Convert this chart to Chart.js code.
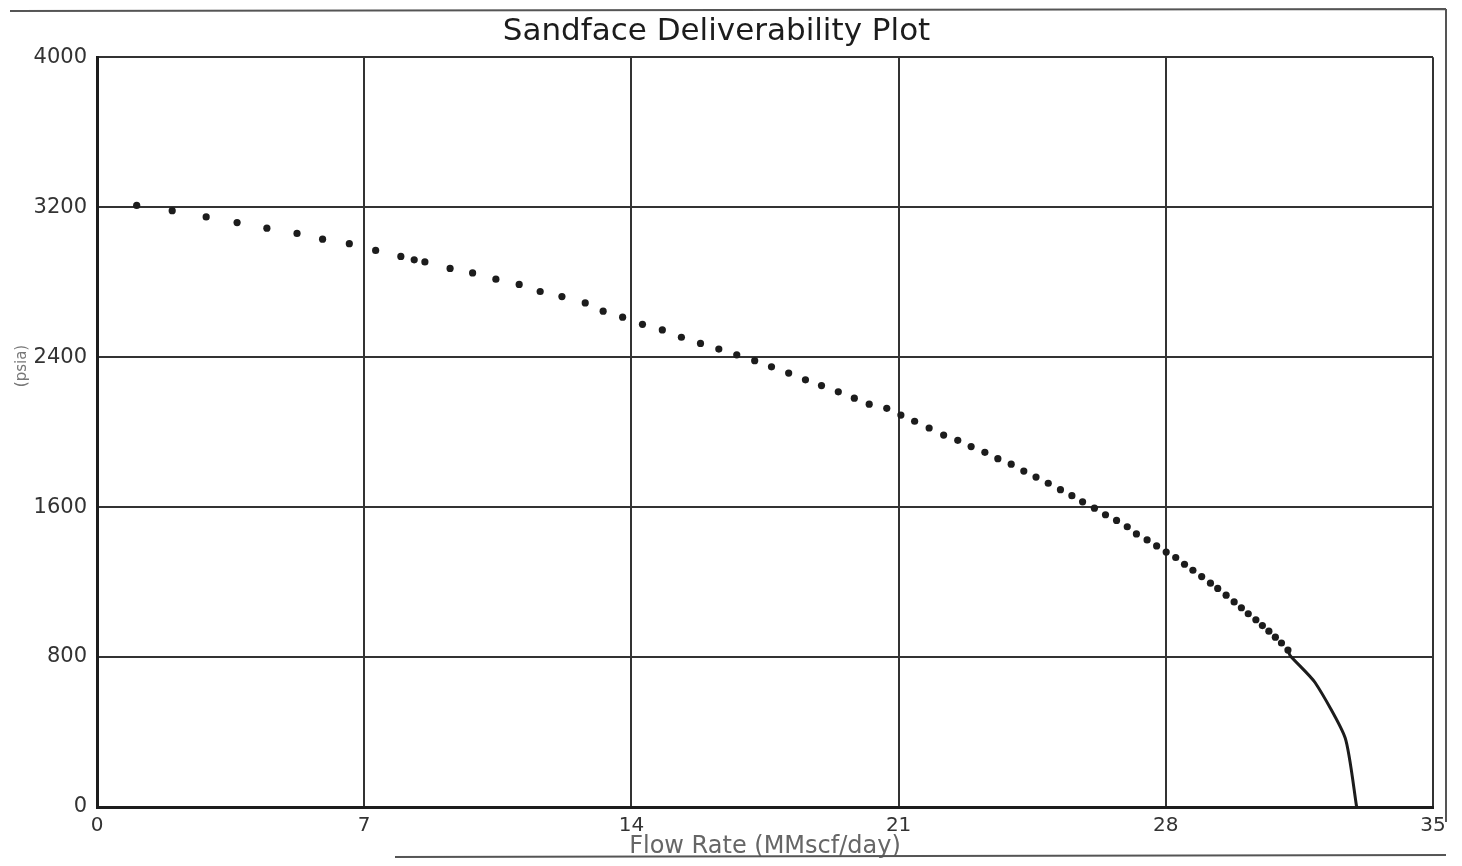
<!DOCTYPE html>
<html>
<head>
<meta charset="utf-8">
<script src="https://cdn.jsdelivr.net/npm/chart.js@4.4.0/dist/chart.umd.min.js"></script>
<style>
  html, body { margin: 0; padding: 0; background: #fff; }
  #wrap { width: 1462px; height: 866px; }
</style>
</head>
<body>
<div id="wrap"><canvas id="plot"></canvas></div>
<script>
// Sandface deliverability
const flowRate = [1.04, 1.97, 2.86, 3.67, 4.45, 5.24, 5.91, 6.61, 7.30, 7.96, 8.31, 8.59, 9.25, 9.84, 10.45,
  11.06, 11.61, 12.18, 12.79, 13.26, 13.77, 14.29, 14.81, 15.31, 15.81, 16.29, 16.76, 17.23, 17.67, 18.12,
  18.56, 18.98, 19.42, 19.84, 20.23, 20.69, 21.06, 21.42, 21.80, 22.18, 22.55, 22.90, 23.26, 23.60, 23.95,
  24.28, 24.60, 24.92, 25.24, 25.54, 25.82, 26.13, 26.42, 26.71, 26.99, 27.23, 27.51, 27.76, 28.01, 28.26,
  28.49, 28.71, 28.94, 29.17, 29.36, 29.58, 29.79, 29.98, 30.16, 30.36, 30.53, 30.70, 30.87, 31.03, 31.20];
const pwf = [3209, 3181, 3148, 3118, 3088, 3060, 3029, 3005, 2969, 2937, 2919, 2908, 2873, 2849, 2816,
  2788, 2750, 2723, 2689, 2645, 2613, 2575, 2545, 2506, 2473, 2443, 2412, 2381, 2348, 2315,
  2279, 2248, 2215, 2181, 2149, 2127, 2091, 2058, 2022, 1984, 1956, 1923, 1892, 1858, 1829,
  1792, 1760, 1727, 1693, 1661, 1628, 1594, 1559, 1529, 1495, 1457, 1425, 1393, 1360, 1331,
  1295, 1263, 1229, 1194, 1166, 1130, 1094, 1063, 1031, 999, 968, 938, 906, 875, 837];

// solid tail of the curve down to zero pressure
const curveRate = [31.20, 31.26, 31.91, 32.70, 33.0];
const curvePwf = [837, 807, 664, 368, 0];

const xTicks = [0, 7, 14, 21, 28, 35];
const yTicks = [0, 800, 1600, 2400, 3200, 4000];

const ink = '#1c1c1c';
const gridInk = '#333';
const font = "'DejaVu Sans', 'Liberation Sans', sans-serif";

// leftover y-axis caption (mostly faded in the scan) + page frame lines
const yCaption = {
  id: 'yCaption',
  afterDraw(chart) {
    const c = chart.ctx;
    c.save();
    c.translate(22, 366);
    c.rotate(-Math.PI / 2);
    c.fillStyle = '#777';
    c.font = '15px ' + font;
    c.textAlign = 'center';
    c.textBaseline = 'middle';
    c.fillText('(psia)', 0, 0);
    c.restore();
    c.save();
    c.strokeStyle = '#555';
    c.lineWidth = 2;
    c.beginPath();
    c.moveTo(10, 11); c.lineTo(1446, 9);
    c.moveTo(1446, 9); c.lineTo(1446, 822);
    c.moveTo(395, 857); c.lineTo(1446, 855);
    c.stroke();
    c.restore();
  }
};

new Chart(document.getElementById('plot').getContext('2d'), {
  type: 'scatter',
  data: {
    datasets: [{
      label: 'Sandface',
      data: flowRate.map((x, i) => ({ x: x, y: pwf[i] })),
      showLine: false,
      pointRadius: 3.6,
      pointBackgroundColor: ink,
      pointBorderWidth: 0
    }, {
      label: 'Curve',
      data: curveRate.map((x, i) => ({ x: x, y: curvePwf[i] })),
      showLine: true,
      borderColor: ink,
      borderWidth: 3,
      pointRadius: 0,
      tension: 0.2
    }]
  },
  options: {
    responsive: true,
    maintainAspectRatio: false,
    animation: false,
    layout: { padding: { left: 0, right: 29, top: 0, bottom: 0 } },
    plugins: {
      legend: { display: false },
      tooltip: { enabled: false },
      title: {
        display: true,
        text: 'Sandface Deliverability Plot',
        color: ink,
        font: { family: font, size: 31, weight: 'normal' },
        padding: { top: 13, bottom: 7 }
      }
    },
    scales: {
      x: {
        type: 'linear',
        min: 0, max: 35,
        afterBuildTicks: s => { s.ticks = xTicks.map(v => ({ value: v })); },
        afterFit: s => { s.height = 59; },
        grid: { color: gridInk, lineWidth: 2, drawTicks: false },
        border: { color: ink, width: 3 },
        ticks: { color: '#333', padding: 7, font: { family: font, size: 20 }, callback: v => String(v) },
        title: {
          display: true,
          text: 'Flow Rate (MMscf/day)',
          color: '#666',
          font: { family: font, size: 24 },
          padding: { top: 0, bottom: 5 }
        }
      },
      y: {
        type: 'linear',
        min: 0, max: 4000,
        afterBuildTicks: s => { s.ticks = yTicks.map(v => ({ value: v })); },
        afterFit: s => { s.width = 97; },
        grid: { color: gridInk, lineWidth: 2, drawTicks: false },
        border: { color: ink, width: 3 },
        ticks: { color: '#333', padding: 10, font: { family: font, size: 21 }, callback: v => String(v) }
      }
    }
  },
  plugins: [yCaption]
});
</script>
</body>
</html>
